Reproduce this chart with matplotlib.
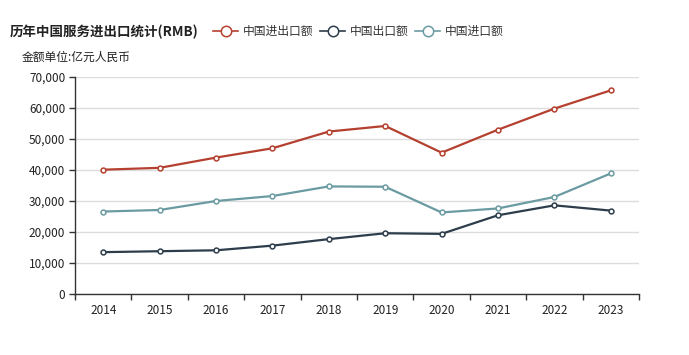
import matplotlib
matplotlib.use("Agg")
import matplotlib.pyplot as plt
from matplotlib.lines import Line2D
from matplotlib.ticker import FuncFormatter, FixedLocator

plt.rcParams['font.family'] = ['Noto Sans CJK SC', 'DejaVu Sans']

years = ['2014', '2015', '2016', '2017', '2018', '2019', '2020', '2021', '2022', '2023']
total = [40100, 40700, 44000, 47000, 52400, 54200, 45600, 53000, 59800, 65700]
export = [13500, 13800, 14100, 15600, 17700, 19600, 19400, 25400, 28600, 26900]
imports = [26600, 27100, 30000, 31600, 34700, 34600, 26300, 27600, 31300, 38900]
series_names = ['中国进出口额', '中国出口额', '中国进口额']
colors = ['#b5402f', '#2e3d4c', '#6b9ba2']

W, H = 689, 355
fig = plt.figure(figsize=(W / 100, H / 100), dpi=100)
ax = fig.add_axes([75 / W, (H - 294) / H, (639 - 75) / W, (294 - 77) / H])

x = list(range(len(years)))
for vals, c in zip([total, export, imports], colors):
    ax.plot(x, vals, color=c, lw=1.6, marker='o', ms=3.5, mfc='white', mec=c, mew=1.1, zorder=3)

ax.set_xlim(-0.5, len(years) - 0.5)
ax.set_ylim(0, 70000)
ax.set_yticks(range(0, 70001, 10000))
ax.yaxis.set_major_formatter(FuncFormatter(lambda v, p: f'{int(v):,}'))
ax.grid(axis='y', color='#dcdcdc', lw=1)
ax.set_axisbelow(True)

ax.set_xticks(x)
ax.set_xticklabels(years)
ax.xaxis.set_minor_locator(FixedLocator([i - 0.5 for i in range(len(years) + 1)]))
ax.tick_params(axis='x', which='major', length=0, pad=7, labelsize=8.5, labelcolor='#222222')
ax.tick_params(axis='x', which='minor', length=4, width=1, color='#333333', direction='out')
ax.tick_params(axis='y', length=4, width=1, color='#333333', labelsize=8.5, labelcolor='#222222', pad=3)

for s in ['top', 'right']:
    ax.spines[s].set_visible(False)
for s in ['left', 'bottom']:
    ax.spines[s].set_color('#333333')
    ax.spines[s].set_linewidth(1)

fig.text(10 / W, 1 - 32 / H, '历年中国服务进出口统计(RMB)', fontsize=9.7, fontweight='bold',
         va='center', ha='left', color='#222222')
fig.text(22 / W, 1 - 57 / H, '金额单位:亿元人民币', fontsize=8.5, va='center', ha='left', color='#222222')

# legend drawn manually at pixel positions
leg_x = [213, 320, 415]
leg_y = 1 - 31 / H
for name, c, lx in zip(series_names, colors, leg_x):
    fig.add_artist(Line2D([lx / W, (lx + 25) / W], [leg_y, leg_y], color=c, lw=1.2,
                          transform=fig.transFigure))
    fig.add_artist(Line2D([(lx + 12.5) / W], [leg_y], color=c, marker='o', ms=7.5, mfc='white',
                          mec=c, mew=1.1, transform=fig.transFigure))
    fig.text((lx + 30) / W, leg_y, name, fontsize=8.5, va='center', ha='left', color='#333333')

fig.savefig('out.png', dpi=100)
